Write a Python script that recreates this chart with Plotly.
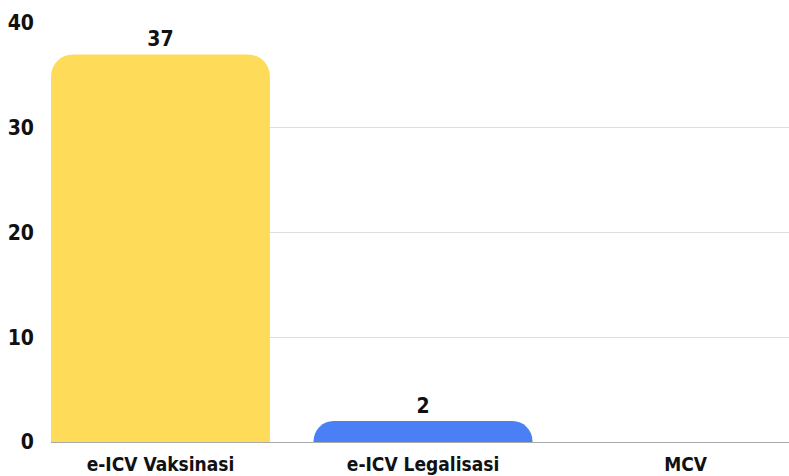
import plotly.graph_objects as go

categories = ["e-ICV Vaksinasi", "e-ICV Legalisasi", "MCV"]
values = [37, 2, 0]
bar_colors = ["#FEDC5A", "#4A80F6", "#4A80F6"]
y_ticks = [0, 10, 20, 30, 40]

FONT = "DejaVu Sans Condensed, Liberation Sans Narrow, sans-serif"

fig = go.Figure(
    go.Bar(
        x=list(range(len(categories))),
        y=values,
        marker=dict(color=bar_colors, line=dict(width=0)),
        width=0.834,
        text=[str(v) if v else "" for v in values],
        textposition="outside",
        textfont=dict(family=FONT, size=21, color="#111111", weight="bold"),
        cliponaxis=False,
        hoverinfo="skip",
    )
)

fig.update_layout(
    width=789,
    height=476,
    margin=dict(l=51, r=0, t=23, b=34, autoexpand=False),
    paper_bgcolor="white",
    plot_bgcolor="white",
    barcornerradius=22,
    showlegend=False,
    xaxis=dict(
        range=[-0.417, 2.394],
        tickmode="array",
        tickvals=list(range(len(categories))),
        ticktext=categories,
        showgrid=False,
        zeroline=False,
        showline=False,
        ticks="",
        automargin=False,
        ticklabelstandoff=9,
        tickfont=dict(family=FONT, size=19, color="#111111", weight="bold"),
    ),
    yaxis=dict(
        range=[0, 40],
        tickmode="array",
        tickvals=y_ticks,
        showgrid=True,
        gridcolor="#DDDDDD",
        gridwidth=1,
        zeroline=True,
        zerolinecolor="#AAAAAA",
        zerolinewidth=1,
        showline=False,
        ticks="",
        automargin=False,
        ticklabelstandoff=16,
        tickfont=dict(family=FONT, size=21, color="#111111", weight="bold"),
    ),
)

fig.write_html(
    "out.html",
    config={"displayModeBar": False},
    post_script="document.body.style.margin='0';document.body.style.overflow='hidden';",
)
